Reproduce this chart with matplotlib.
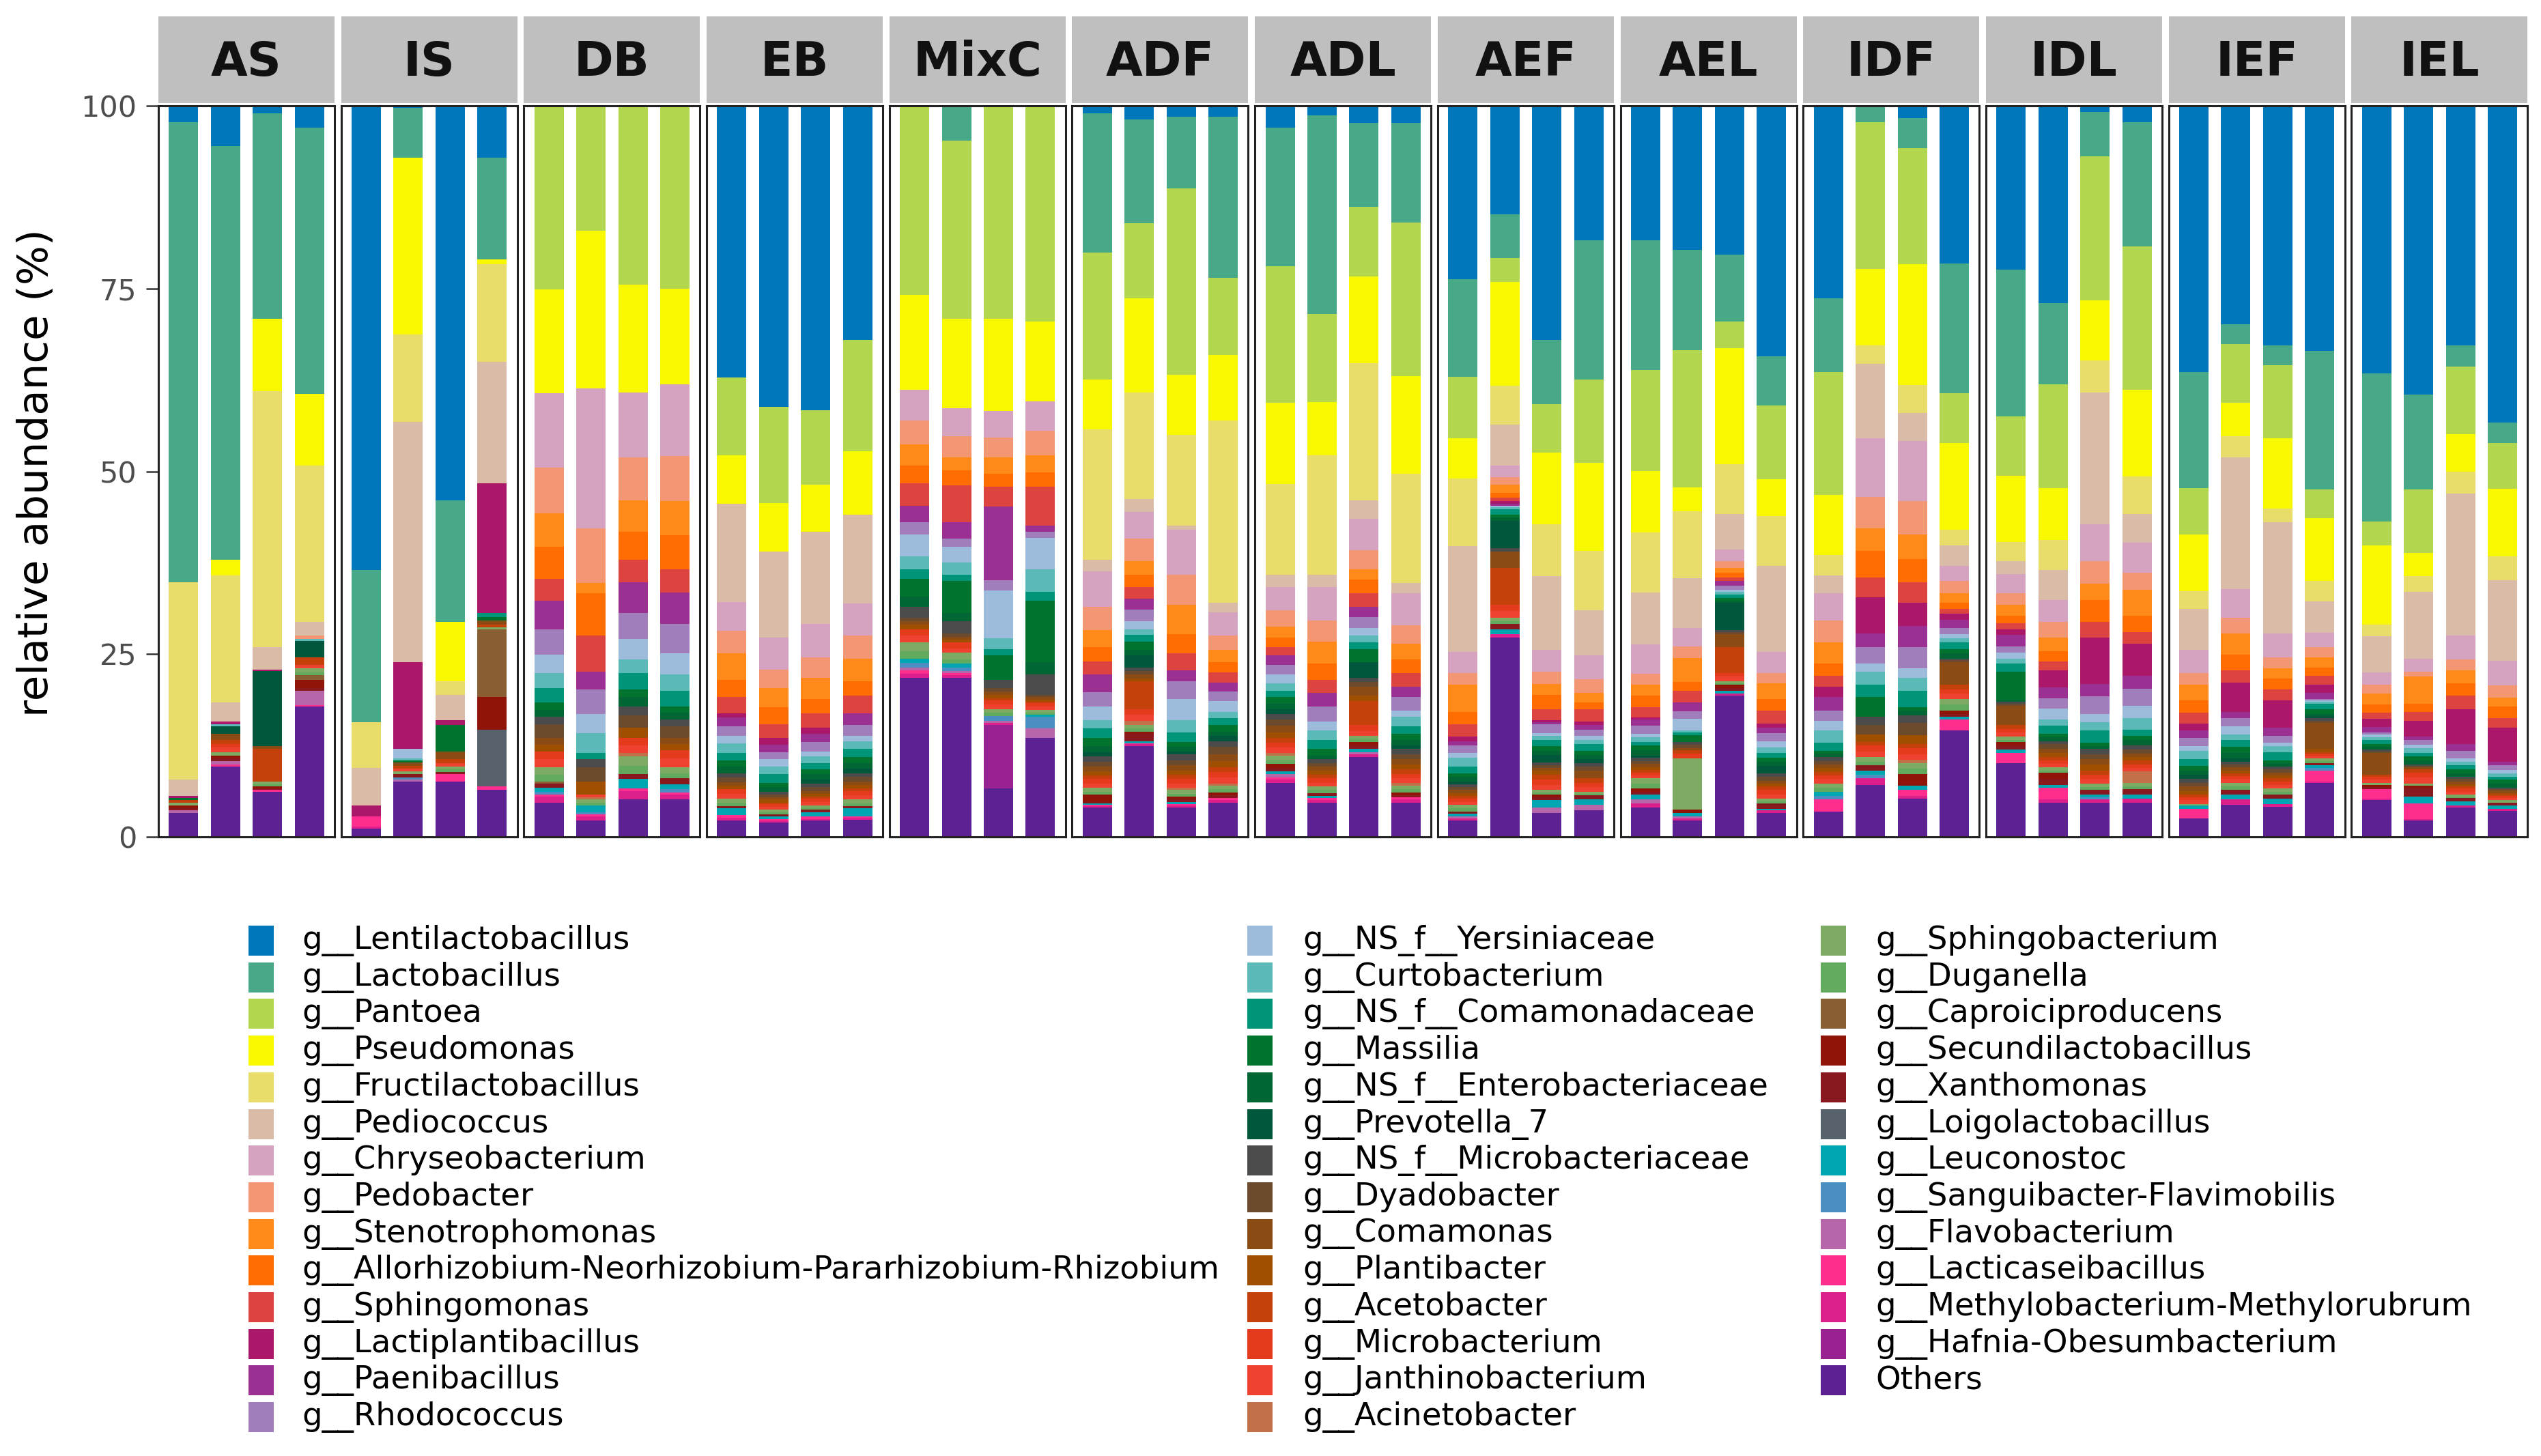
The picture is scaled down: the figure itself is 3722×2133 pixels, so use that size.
import numpy as np
import matplotlib
matplotlib.use("Agg")
import matplotlib.pyplot as plt
from matplotlib.patches import Rectangle

plt.rcParams['font.family'] = ['DejaVu Sans']

# facets, 4 samples each
groups = ["AS", "IS", "DB", "EB", "MixC", "ADF", "ADL", "AEF", "AEL", "IDF", "IDL", "IEF", "IEL"]

taxa = [
    "g__Lentilactobacillus", "g__Lactobacillus", "g__Pantoea", "g__Pseudomonas",
    "g__Fructilactobacillus", "g__Pediococcus", "g__Chryseobacterium", "g__Pedobacter",
    "g__Stenotrophomonas", "g__Allorhizobium-Neorhizobium-Pararhizobium-Rhizobium",
    "g__Sphingomonas", "g__Lactiplantibacillus", "g__Paenibacillus", "g__Rhodococcus",
    "g__NS_f__Yersiniaceae", "g__Curtobacterium", "g__NS_f__Comamonadaceae", "g__Massilia",
    "g__NS_f__Enterobacteriaceae", "g__Prevotella_7", "g__NS_f__Microbacteriaceae",
    "g__Dyadobacter", "g__Comamonas", "g__Plantibacter", "g__Acetobacter",
    "g__Microbacterium", "g__Janthinobacterium", "g__Acinetobacter",
    "g__Sphingobacterium", "g__Duganella", "g__Caproiciproducens", "g__Secundilactobacillus",
    "g__Xanthomonas", "g__Loigolactobacillus", "g__Leuconostoc", "g__Sanguibacter-Flavimobilis",
    "g__Flavobacterium", "g__Lacticaseibacillus", "g__Methylobacterium-Methylorubrum",
    "g__Hafnia-Obesumbacterium", "Others",
]

colors = [
    "#0077bb", "#47a987", "#b3d64f", "#f8f800", "#e8dc6a", "#dabba7", "#d5a3bf", "#f29674",
    "#ff8a1a", "#ff6d00", "#dd4440", "#ab186a", "#9b3092", "#a27dbb",
    "#9dbcdb", "#5bbab8", "#009479", "#00732f", "#006633", "#00573c", "#4b4b4b",
    "#6b4a2e", "#8a4c14", "#a04f00", "#c5410b", "#e33b1c", "#ee412f", "#c2704a",
    "#7dab63", "#62aa5e", "#8a5e33", "#901407", "#87191f", "#57616b", "#00a7b3",
    "#4b8fc2", "#b766a9", "#ff2e8e", "#dc1f8b", "#9a2192", "#5c2192",
]

# relative abundance (%) per sample, order: AS1-4, IS1-4, DB, EB, MixC, ADF, ADL, AEF, AEL, IDF, IDL, IEF, IEL
lentilactobacillus = [2.2, 5.5, 1.0, 3.0, 63.4, 0.3, 54.0, 7.1, 0, 0, 0, 0, 37.1, 41.2, 41.6, 32.0,
                      0, 0, 0, 0, 1.0, 1.9, 1.5, 1.5, 3.0, 1.3, 2.3, 2.3, 23.7, 14.8, 32.0, 18.4,
                      18.4, 19.7, 20.4, 34.3, 26.3, 0, 1.7, 21.6, 22.4, 27.0, 0.8, 2.2,
                      36.4, 29.9, 32.8, 33.5, 36.6, 39.5, 32.8, 43.3]
lactobacillus = [63.0, 56.6, 28.1, 36.4, 20.8, 6.8, 16.6, 13.9, 0, 0, 0, 0, 0, 0, 0, 0,
                 0, 4.8, 0, 0, 19.1, 14.2, 9.8, 22.0, 18.9, 27.2, 11.5, 13.7, 13.4, 6.0, 8.8, 19.0,
                 17.7, 13.8, 9.1, 6.7, 10.1, 2.2, 4.1, 17.7, 20.1, 11.1, 6.1, 17.0,
                 15.9, 2.7, 2.7, 19.0, 20.2, 13.0, 2.9, 2.8]
pantoea = [0, 0, 0, 0, 0, 0, 0, 0, 25.1, 17.1, 24.5, 25.0, 10.6, 13.1, 10.2, 15.2,
           25.9, 24.3, 29.1, 29.5, 17.3, 10.2, 25.5, 10.6, 18.7, 12.0, 9.5, 21.0, 8.4, 3.3, 6.6, 11.4,
           13.8, 18.8, 3.6, 10.1, 16.8, 20.1, 15.8, 6.8, 8.2, 14.2, 19.7, 19.6,
           6.3, 8.0, 10.0, 3.9, 3.3, 8.7, 9.2, 6.2]
pseudomonas = [0, 2.1, 9.9, 9.8, 0, 24.2, 8.1, 0.7, 14.2, 21.6, 14.7, 13.1, 6.6, 6.7, 6.5, 8.7,
               12.9, 12.3, 12.6, 10.9, 6.9, 12.9, 8.2, 8.9, 11.1, 7.3, 11.9, 13.3, 5.5, 14.2, 9.8, 12.1,
               8.4, 3.3, 15.9, 5.0, 8.2, 10.5, 16.5, 11.9, 9.0, 7.1, 8.2, 11.8,
               7.8, 4.6, 9.6, 8.6, 10.8, 3.1, 5.1, 9.3]
fructilactobacillus = [27.0, 17.4, 35.0, 21.4, 6.3, 11.9, 1.9, 13.3, 0, 0, 0, 0, 0, 0, 0, 0,
                       0, 0, 0, 0, 17.8, 14.6, 12.4, 25.0, 12.4, 16.3, 18.8, 15.0, 9.2, 5.3, 7.1, 8.1,
                       8.2, 9.1, 6.8, 6.8, 2.8, 2.5, 3.8, 2.1, 2.6, 4.2, 4.4, 5.1,
                       2.4, 2.9, 1.9, 2.8, 1.6, 2.2, 3.0, 3.2]
pediococcus = [2.2, 2.6, 3.1, 1.9, 5.1, 32.9, 3.4, 16.6, 0, 0, 0, 0, 13.4, 11.7, 12.6, 12.2,
               0, 0, 0, 0, 1.6, 1.8, 0.6, 1.3, 1.7, 1.7, 2.5, 1.4, 14.5, 5.6, 10.1, 6.2,
               7.1, 6.9, 4.9, 11.8, 2.5, 10.2, 3.8, 2.8, 1.8, 4.1, 18.0, 3.9,
               5.6, 18.0, 15.2, 4.3, 4.9, 9.1, 19.5, 11.0]
chryseobacterium = [0, 0, 0, 0, 0, 0, 0, 0, 10.2, 19.1, 8.9, 9.8, 4.0, 4.4, 4.5, 4.4,
                    4.2, 3.8, 3.7, 4.0, 4.8, 3.6, 6.1, 3.2, 3.2, 4.6, 4.3, 4.4, 2.9, 1.6, 3.0, 3.2,
                    4.0, 2.5, 1.6, 2.9, 3.7, 8.0, 8.2, 2.1, 2.6, 3.0, 5.1, 4.1,
                    3.2, 3.9, 3.2, 1.9, 1.7, 1.8, 3.2, 3.4]
pedobacter = [0, 0, 0, 0.4, 0, 0, 0, 0, 6.2, 7.5, 5.9, 6.2, 3.0, 2.5, 2.8, 3.1,
              3.3, 2.9, 2.7, 3.4, 3.2, 3.1, 4.2, 1.9, 2.2, 2.9, 2.6, 2.5, 1.6, 1.0, 1.7, 1.9,
              1.5, 1.6, 0.9, 1.4, 3.0, 4.3, 4.6, 1.7, 1.6, 2.1, 3.1, 2.4,
              1.6, 2.2, 1.5, 1.4, 1.2, 0.7, 1.5, 1.7]
stenotrophomonas = [0, 0, 0, 0, 0, 0, 0, 0, 4.6, 1.4, 4.3, 4.6, 3.7, 2.7, 2.9, 3.1,
                    2.9, 1.8, 2.2, 2.3, 2.3, 1.8, 4.0, 1.7, 1.5, 3.0, 1.4, 2.1, 3.7, 1.1, 1.5, 1.3,
                    1.5, 3.3, 0.7, 2.1, 2.9, 3.1, 3.3, 1.3, 1.5, 1.9, 2.2, 3.5,
                    2.1, 2.9, 1.4, 1.4, 1.5, 3.7, 1.8, 1.2]
allorhizobium = [0, 0, 0, 0, 0, 0, 0, 0, 4.4, 5.8, 3.8, 4.7, 2.3, 2.3, 2.0, 2.0,
                 2.4, 2.0, 1.8, 2.0, 2.0, 1.7, 2.6, 1.4, 1.3, 2.2, 1.9, 1.9, 1.7, 0.7, 1.9, 0.9,
                 1.6, 1.2, 0.6, 1.6, 1.7, 3.6, 3.2, 0.8, 1.0, 1.4, 3.0, 2.2,
                 1.7, 2.1, 1.5, 1.2, 1.1, 1.1, 1.7, 1.6]
sphingomonas = [0, 0, 0, 0, 0, 0, 0, 0, 3.0, 4.9, 3.1, 3.2, 2.2, 1.9, 2.0, 2.4,
                3.1, 5.1, 2.7, 5.3, 1.8, 1.6, 2.3, 1.4, 1.2, 1.8, 1.8, 1.9, 1.7, 0.5, 1.5, 1.7,
                1.4, 1.6, 0.5, 1.8, 1.5, 2.7, 2.8, 0.7, 0.9, 1.2, 2.1, 1.6,
                1.5, 1.7, 1.5, 1.2, 0.9, 1.2, 1.8, 1.3]
lactiplantibacillus = [0.3, 0.4, 0.2, 0, 1.5, 11.9, 0.7, 17.8, 0, 0, 0, 0, 0.6, 0.9, 0.8, 0,
                       0, 0, 0, 0, 0, 0, 0, 0, 0, 0, 0, 0, 0.6, 0.3, 0.3, 0.5,
                       0.3, 0, 0, 0.6, 1.4, 5.0, 3.1, 0.8, 0.7, 2.3, 6.4, 4.4,
                       0.9, 4.0, 3.8, 1.1, 1.1, 2.2, 4.8, 4.6]
paenibacillus = [0, 0, 0, 0, 0, 0, 0, 0, 3.9, 2.4, 4.2, 4.3, 1.2, 1.0, 1.1, 1.6,
                 2.3, 2.2, 10.1, 0.9, 2.4, 1.5, 1.5, 1.2, 1.3, 1.9, 1.4, 1.4, 0.6, 0.3, 0.3, 0.6,
                 0.8, 1.2, 0.6, 0.7, 1.8, 1.8, 2.9, 1.1, 1.6, 1.5, 1.7, 1.8,
                 1.1, 0.9, 1.1, 0.8, 0.7, 0.4, 0.9, 0.5]
rhodococcus = [0, 0, 0, 0, 0, 0, 0, 0, 3.5, 3.4, 3.5, 4.0, 1.3, 1.0, 1.3, 1.5,
               1.6, 1.1, 1.4, 0.8, 2.0, 1.6, 2.4, 1.3, 1.3, 2.0, 1.5, 1.8, 1.0, 0, 1.2, 0.9,
               1.1, 1.0, 0.6, 1.1, 1.4, 2.3, 2.9, 0.9, 0.9, 1.4, 2.4, 2.3,
               1.1, 1.1, 0.9, 0.2, 0.3, 0.7, 1.1, 0.7]
yersiniaceae = [0, 0, 0, 0, 0, 1.3, 0, 0, 2.5, 2.6, 2.8, 2.9, 1.0, 1.0, 0.7, 0.7,
                3.0, 2.2, 6.5, 4.3, 1.8, 1.1, 2.9, 1.5, 1.2, 1.2, 1.1, 0.9, 0.7, 0.2, 0.4, 0.5,
                0.5, 1.6, 0.3, 0.9, 1.3, 1.1, 1.3, 0.5, 0.8, 1.5, 1.1, 1.7,
                0.6, 1.1, 0.5, 0.2, 0.4, 0.5, 0.4, 0.4]
curtobacterium = [0, 0.3, 0, 0.3, 0, 0.2, 0, 0, 2.0, 2.7, 1.9, 2.2, 1.3, 1.0, 0.9, 1.1,
                  1.8, 1.6, 1.5, 3.1, 1.2, 0.8, 1.7, 0.9, 1.0, 1.3, 0.9, 1.3, 1.2, 0.3, 0.5, 0.6,
                  0.6, 0.3, 0.4, 0.7, 1.7, 1.8, 1.8, 0.6, 0.7, 0.9, 1.1, 1.6,
                  1.2, 0.7, 0.8, 0.3, 0.4, 0.6, 0.5, 0.5]
comamonadaceae = [0, 0, 0, 0, 0, 0, 0, 0.5, 2.0, 0.9, 2.2, 2.2, 1.1, 1.2, 0.9, 1.1,
                  1.3, 0.9, 0.9, 1.2, 1.3, 0.9, 1.3, 0.9, 0.9, 1.3, 0.9, 1.0, 0.9, 0.7, 0.9, 0.9,
                  0.5, 0.4, 0.4, 0.7, 1.1, 1.7, 2.2, 0.9, 1.1, 1.1, 1.7, 0.8,
                  0.9, 1.0, 1.1, 0.7, 0.5, 0.5, 0.6, 0.4]
massilia = [0.3, 0, 0, 0, 0, 0.3, 3.6, 0.5, 1.0, 0, 1.1, 0.8, 0.8, 0.6, 0.6, 0.8,
            2.4, 4.4, 3.3, 8.4, 1.1, 1.1, 0.7, 0.9, 0.9, 0.9, 1.8, 0.8, 0.5, 0.4, 0.6, 0.6,
            0.7, 0.9, 0.4, 0.5, 0.4, 2.7, 0.5, 0.6, 3.8, 0.5, 0.5, 0.6,
            0.6, 0.8, 0.45, 0.7, 0.4, 0.55, 0.5, 0.5]
enterobacteriaceae = [0, 0, 0, 0, 0, 0, 0, 0, 1.0, 0, 1.3, 0.9, 0.9, 0.6, 0.8, 0.8,
                      1.4, 1.1, 0, 1.7, 0.8, 0.8, 0.6, 0.6, 0.7, 0.5, 0, 0.8, 0.6, 0.5, 0.6, 0.6,
                      0.7, 0, 0.3, 0.6, 0.5, 0, 0.6, 0.7, 0.3, 0.5, 0.4, 0.7,
                      0.6, 0.8, 0.45, 0.3, 0.4, 0.55, 0.5, 0.6]
prevotella_7 = [0, 1.0, 10.3, 2.2, 0, 0, 0, 0, 0, 0, 0, 0, 0, 0, 0.5, 0.6,
                0, 0, 0, 0, 0.6, 1.6, 0.4, 0.7, 0.7, 0, 2.1, 0.5, 0.4, 3.7, 1.0, 0.5,
                0.3, 0, 3.7, 1.0, 0, 0, 0, 0, 0, 0, 0, 0,
                0.6, 0.4, 0, 0.3, 0, 0, 0, 0]
microbacteriaceae = [0, 0, 0, 0, 0, 0, 0, 0, 1.0, 1.1, 1.2, 1.0, 0.6, 0.4, 0.5, 0.5,
                     1.5, 1.7, 1.1, 2.8, 0.7, 0.5, 0.8, 0.8, 0.7, 0.5, 0.6, 0.7, 0.4, 0.5, 0.4, 0.5,
                     0.4, 0.4, 0.3, 0.5, 0.5, 1.1, 1.1, 0.25, 0.3, 0.4, 0.7, 0.6,
                     0.5, 0.4, 0.4, 0.3, 0.2, 0.2, 0.3, 0.2]
dyadobacter = [0, 0, 0, 0, 0, 0, 0, 0, 1.9, 1.9, 1.7, 1.6, 0.6, 0.4, 0.5, 0.6,
               0.5, 0.4, 0.5, 0.3, 0.7, 0.5, 0.7, 1.0, 0.9, 0.5, 0.7, 0.7, 0.4, 0, 0.4, 0.5,
               0.4, 0.4, 0.3, 0.5, 0.5, 1.3, 1.6, 0.25, 0.3, 0.6, 0.7, 0.5,
               0.5, 0.4, 0.4, 0.3, 0.2, 0.2, 0.3, 0.2]
comamonas = [0, 0.8, 0.4, 0, 0, 0.5, 1.1, 0.6, 0.9, 0, 0, 0.8, 0.5, 0.3, 0.4, 0.5,
             0.5, 0.4, 0.5, 0.3, 0.6, 0.5, 0.7, 0.9, 0.9, 0.5, 1.2, 0.7, 0.4, 2.2, 0.3, 1.1,
             0.5, 0.3, 1.7, 0.4, 0.5, 0, 0, 3.1, 2.6, 0.6, 0.7, 0.5,
             0.6, 0.4, 0.4, 3.6, 3.0, 0.3, 0.4, 0.3]
plantibacter = [0, 0, 0, 0, 0, 0, 0, 0, 0.9, 1.8, 1.4, 0.8, 0.5, 0.4, 0.4, 0.5,
                0.6, 0.4, 0.4, 0.3, 0.6, 0.4, 0.6, 0.9, 0.8, 0.6, 0.7, 0.7, 0.4, 0, 0.6, 0,
                0.4, 0, 0, 0.4, 0.5, 1.0, 1.2, 0, 0, 0.6, 0.8, 0.5,
                0.5, 0.4, 0.4, 0.4, 0, 0, 0.3, 0.2]
acetobacter = [0.3, 0.6, 4.4, 1.1, 0, 0.4, 0.5, 0.3, 0, 0, 0, 0, 0, 0.2, 0.3, 0.3,
               0, 0, 0.3, 0.2, 0.5, 3.8, 0.6, 0.6, 0.6, 0.5, 3.3, 0.6, 0.4, 5.1, 0.7, 0.6,
               0.3, 0.5, 3.6, 0.5, 0.5, 0.5, 0.6, 0.6, 0.5, 0.4, 0.6, 0.5,
               0.4, 0.4, 0.4, 0.3, 0.3, 0.4, 0.3, 0.2]
microbacterium = [0, 0.5, 0, 0, 0, 0, 0, 0, 1.1, 0, 1.0, 1.2, 0.6, 0.4, 0.4, 0.6,
                  0.9, 0.8, 0.6, 0.5, 0.6, 0.8, 0.6, 0.8, 0.7, 0.6, 0.8, 0.6, 0.4, 0.8, 0.7, 0.6,
                  0.4, 0.6, 0.5, 0.6, 0.5, 0.8, 0.8, 0.6, 0.5, 0.5, 0.6, 0.5,
                  0.4, 0.4, 0.5, 0.3, 0.4, 0.7, 0.4, 0.3]
janthinobacterium = [0, 0.6, 0, 0.4, 0, 0.3, 0.5, 0, 1.1, 0.4, 1.0, 1.2, 0.7, 0.4, 0.5, 0.6,
                     0.9, 0.6, 0.6, 0.4, 0.6, 0.8, 0.6, 0.8, 0.7, 0.5, 0.7, 0.6, 0.4, 0.9, 0.7, 0.6,
                     0.4, 0, 0.6, 0.6, 0.6, 0.8, 0.8, 0.7, 0.6, 0.5, 0.6, 0.5,
                     0.5, 0.5, 0.5, 0.3, 0.4, 0.8, 0.4, 0.3]
acinetobacter = [0, 0, 0, 0, 0, 0, 0, 0, 0, 0.3, 0.5, 0, 0, 0, 0, 0,
                 0, 0, 0, 0, 0, 0.6, 0.3, 0.3, 0.4, 0, 0, 0.4, 0, 0, 0, 0,
                 0, 0, 0, 0, 0, 0, 0.4, 0, 0, 0, 0, 1.5,
                 0, 0, 0, 0, 0, 0, 0, 0]
sphingobacterium = [0.4, 0.5, 0.4, 0.6, 0, 0.4, 0.4, 0.3, 1.0, 0.4, 1.3, 0.8, 0.5, 0.3, 0.3, 0.5,
                    1.2, 0.9, 0.5, 0.4, 0.5, 0.5, 0.5, 0.5, 0.6, 0.5, 0.4, 0.5, 0.5, 0.5, 0.3, 0.3,
                    0.7, 7.1, 0.3, 0.3, 0.6, 0.6, 0.8, 0.8, 0.4, 0.4, 0.5, 0.5,
                    0.2, 0.5, 0.4, 0.3, 0.3, 0.3, 0.3, 0.3]
duganella = [0, 0, 0.3, 0.4, 0, 0, 0.3, 0, 0.9, 0.4, 1.1, 0.7, 0.5, 0.3, 0.3, 0.4,
             1.0, 0.6, 0.5, 0.3, 0.4, 0.4, 0.4, 0.4, 0.5, 0.4, 0.4, 0.4, 0.4, 0.4, 0.3, 0.2,
             0.7, 0, 0.2, 0.3, 0.5, 0.5, 0.7, 0.8, 0.3, 0.3, 0.4, 0.4,
             0, 0.5, 0.4, 0.3, 0, 0, 0.2, 0]
caproiciproducens = [0, 0, 0, 0.6, 0, 0, 0, 9.3, 0.3, 0, 0, 0, 0, 0, 0, 0,
                     0, 0, 0, 0, 0, 0, 0, 0, 0, 0, 0, 0, 0, 0, 0, 0,
                     0, 0, 0, 0, 0, 0, 0, 0, 0, 0, 0, 0,
                     0, 0, 0, 0, 0, 0, 0, 0]
secundilactobacillus = [0.4, 0.4, 0.3, 1.1, 0, 0, 0, 4.4, 0, 0, 0, 0, 0, 0, 0, 0,
                        0, 0, 0, 0, 1.0, 0.3, 0.3, 0.4, 0.6, 0, 0.5, 0.4, 0, 0, 0.4, 0,
                        0.4, 0.4, 0.4, 0, 0, 0, 1.6, 0.5, 0.5, 0.9, 0, 0,
                        0, 0, 0, 0, 0.3, 0.3, 0, 0]
xanthomonas = [0.3, 0.3, 0.2, 0.4, 0, 0.5, 0.3, 0, 0.6, 0, 0.7, 0.8, 0.3, 0.3, 0.3, 0.3,
               0, 0, 0, 0, 0.2, 1.0, 0.4, 0.4, 0.4, 0.4, 0.5, 0.3, 0.3, 0.7, 0.4, 0.6,
               0.4, 0, 0.4, 0.8, 0, 0.7, 0, 0.4, 0.5, 0.8, 0.6, 0.7,
               0, 0.6, 0.6, 0.3, 0.3, 1.2, 0.4, 0.4]
loigolactobacillus = [0, 0, 0, 0, 0, 0, 0, 7.8, 0, 0, 0, 0, 0, 0, 0, 0,
                      0, 0, 0, 0, 0, 0, 0, 0, 0, 0, 0, 0, 0, 0, 0, 0,
                      0, 0, 0, 0, 0, 0, 0, 0, 0, 0, 0, 0,
                      0, 0, 0, 0, 0, 0, 0, 0]
leuconostoc = [0, 0, 0, 0, 0, 0, 0, 0, 0.5, 0.9, 1.3, 0.7, 0.9, 0.4, 0.6, 1.1,
               0.6, 0.5, 0, 0.3, 0.2, 0.3, 0.3, 0, 0.4, 0.3, 0.4, 0, 0.4, 0.7, 1.0, 0.7,
               0.7, 0.5, 0.4, 0.2, 0.6, 0.6, 0.6, 0.3, 0.5, 0.4, 0.4, 0.6,
               0.5, 0.7, 0.7, 0.4, 0, 0.9, 0.6, 0.5]
sanguibacter = [0, 0, 0, 0, 0, 0.3, 0, 0, 0.4, 0.3, 0, 0.4, 0, 0, 0, 0,
                0.6, 0.5, 0.6, 1.6, 0, 0, 0, 0, 0, 0, 0, 0, 0, 0, 0, 0,
                0, 0, 0, 0, 0.5, 0.5, 0, 0, 0, 0, 0.3, 0,
                0, 0, 0, 0.3, 0, 0, 0, 0]
flavobacterium = [0.3, 0.5, 0, 2.0, 0, 0.2, 0, 0, 0, 0, 0, 0, 0, 0, 0, 0,
                  0.4, 0.3, 0.3, 1.3, 0, 0, 0, 0, 0.5, 0, 0.3, 0, 0.3, 0, 0.7, 0.8,
                  0.5, 0.3, 0, 0, 0, 0, 0, 0, 0, 0, 0, 0,
                  0, 0, 0, 0, 0, 0, 0, 0]
lacticaseibacillus = [0, 0.3, 0.2, 0.2, 1.4, 0, 1.0, 0.5, 0.3, 0.3, 0.3, 0.3, 0.4, 0.2, 0.4, 0.2,
                      0.5, 0.3, 0, 0, 0.2, 0.1, 0.2, 0.3, 0.3, 0.3, 0, 0.3, 0, 0, 0, 0,
                      0, 0, 0, 0, 1.6, 0, 0.8, 1.5, 1.4, 1.6, 0, 0,
                      1.3, 0, 0, 1.5, 1.3, 2.2, 0, 0]
methylobacterium = [0, 0, 0, 0, 0.3, 0, 0, 0, 0.8, 0.6, 1.2, 0.7, 0.4, 0.2, 0.2, 0.3,
                    0.5, 0.3, 0.3, 0, 0.2, 0.3, 0.3, 0.3, 0.4, 0.3, 0.4, 0.4, 0.3, 0.4, 0, 0,
                    0.6, 0.3, 0.3, 0.3, 0, 0.9, 0.4, 0, 0, 0.4, 0.4, 0.5,
                    0, 0.7, 0.4, 0.2, 0.2, 0.2, 0.3, 0.3]
hafnia = [0, 0, 0, 0, 0, 0, 0, 0, 0, 0, 0, 0, 0, 0, 0, 0,
          0, 0, 8.7, 0, 0, 0, 0, 0, 0, 0, 0, 0, 0, 0, 0, 0,
          0, 0, 0, 0, 0, 0, 0, 0, 0, 0, 0, 0,
          0, 0, 0, 0, 0, 0, 0, 0]
others = [3.3, 9.6, 6.2, 17.8, 1.1, 7.6, 7.6, 6.4, 4.7, 2.2, 5.1, 5.1, 2.2, 2.0, 2.2, 2.3,
          21.8, 21.8, 6.6, 13.5, 4.0, 12.4, 4.0, 4.7, 7.4, 4.7, 10.9, 4.7, 2.2, 27.3, 3.3, 3.6,
          4.0, 2.2, 19.3, 3.3, 3.5, 7.1, 5.2, 14.6, 10.1, 4.7, 4.7, 4.7,
          2.5, 4.4, 4.1, 7.4, 5.0, 2.2, 4.0, 3.5]

abundance = np.array([
    lentilactobacillus, lactobacillus, pantoea, pseudomonas, fructilactobacillus, pediococcus,
    chryseobacterium, pedobacter, stenotrophomonas, allorhizobium, sphingomonas,
    lactiplantibacillus, paenibacillus, rhodococcus, yersiniaceae, curtobacterium,
    comamonadaceae, massilia, enterobacteriaceae, prevotella_7, microbacteriaceae,
    dyadobacter, comamonas, plantibacter, acetobacter, microbacterium, janthinobacterium,
    acinetobacter, sphingobacterium, duganella, caproiciproducens, secundilactobacillus,
    xanthomonas, loigolactobacillus, leuconostoc, sanguibacter, flavobacterium,
    lacticaseibacillus, methylobacterium, hafnia, others,
], dtype=float)
# relative abundance per sample sums to 100
abundance = abundance / abundance.sum(axis=0) * 100

W, H = 3723, 2133
fig = plt.figure(figsize=(W / 100, H / 100), dpi=100)

panel_left, panel_w, pitch = 232, 258, 267.7
panel_top, panel_bot = 155, 1226
strip_top, strip_bot = 24, 151

x = np.arange(1, 5)
for g, name in enumerate(groups):
    left = (panel_left + g * pitch) / W
    ax = fig.add_axes([left, 1 - panel_bot / H, panel_w / W, (panel_bot - panel_top) / H])
    vals = abundance[:, g * 4:(g + 1) * 4]
    bottom = np.zeros(4)
    # ggplot stacks the first level on top, so draw from "Others" upwards
    for k in range(len(taxa) - 1, -1, -1):
        ax.bar(x, vals[k], bottom=bottom, width=0.7, color=colors[k], linewidth=0)
        bottom += vals[k]
    ax.set_xlim(0.4, 4.6)
    ax.set_ylim(0, 100)
    ax.set_xticks([])
    for sp in ax.spines.values():
        sp.set_linewidth(2.2)
        sp.set_color("#222222")
    if g == 0:
        ax.set_yticks([0, 25, 50, 75, 100])
        ax.tick_params(axis="y", length=13, width=1.8, color="#333333",
                       labelsize=31, labelcolor="#4d4d4d", pad=10)
    else:
        ax.set_yticks([])

    sax = fig.add_axes([left, 1 - strip_bot / H, panel_w / W, (strip_bot - strip_top) / H])
    sax.set_facecolor("#bfbfbf")
    sax.set_xticks([])
    sax.set_yticks([])
    for sp in sax.spines.values():
        sp.set_visible(False)
    sax.text(0.5, 0.47, name, ha="center", va="center", fontsize=50,
             fontweight="bold", color="#111111", transform=sax.transAxes)

fig.text(54 / W, 1 - 693 / H, "relative abundance (%)", rotation=90,
         ha="center", va="center", fontsize=44, color="black")

# legend: three columns, built by hand
col_key_x = [364, 1827, 2667]
col_text_x = [442, 1908, 2747]
col_rows = [14, 14, 13]
row0, row_pitch = 1378, 53.7
key_w, key_h = 37, 44
k = 0
for c in range(3):
    for r in range(col_rows[c]):
        cy = row0 + r * row_pitch
        fig.patches.append(Rectangle((col_key_x[c] / W, 1 - (cy + key_h / 2) / H),
                                     key_w / W, key_h / H, transform=fig.transFigure,
                                     facecolor=colors[k], edgecolor="none"))
        fig.text(col_text_x[c] / W, 1 - cy / H, taxa[k], ha="left", va="center",
                 fontsize=33.5, color="black")
        k += 1

fig.savefig("out.png", dpi=100)
